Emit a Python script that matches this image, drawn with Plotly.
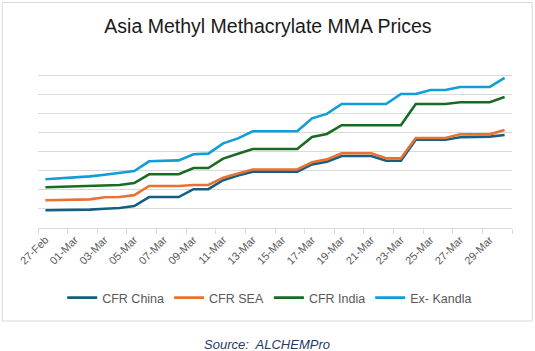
import plotly.graph_objects as go

dates = ["2025-02-27", "2025-03-02", "2025-03-03", "2025-03-04", "2025-03-05",
         "2025-03-06", "2025-03-08", "2025-03-09", "2025-03-10", "2025-03-11",
         "2025-03-12", "2025-03-13", "2025-03-16", "2025-03-17", "2025-03-18",
         "2025-03-19", "2025-03-21", "2025-03-22", "2025-03-23", "2025-03-24",
         "2025-03-25", "2025-03-26", "2025-03-27", "2025-03-29", "2025-03-30"]

cfr_china = [0.93, 0.96, 1.01, 1.05, 1.15, 1.62, 1.62, 2.03, 2.03, 2.50, 2.75, 2.95, 2.95,
             3.33, 3.47, 3.77, 3.77, 3.52, 3.52, 4.62, 4.62, 4.62, 4.75, 4.78, 4.87]
cfr_sea = [1.45, 1.50, 1.61, 1.62, 1.72, 2.20, 2.20, 2.25, 2.25, 2.63, 2.85, 3.06, 3.06,
           3.44, 3.59, 3.91, 3.91, 3.65, 3.65, 4.71, 4.71, 4.71, 4.90, 4.90, 5.13]
cfr_india = [2.13, 2.20, 2.25, 2.25, 2.35, 2.81, 2.81, 3.14, 3.14, 3.63, 3.89, 4.13, 4.13,
             4.76, 4.92, 5.38, 5.38, 5.38, 5.38, 6.49, 6.49, 6.49, 6.58, 6.58, 6.85]
ex_kandla = [2.55, 2.70, 2.79, 2.88, 2.98, 3.49, 3.54, 3.86, 3.89, 4.43, 4.69, 5.06, 5.06,
             5.74, 5.97, 6.49, 6.49, 6.49, 7.01, 7.01, 7.22, 7.22, 7.38, 7.38, 7.85]

series_names = ["CFR China", "CFR SEA", "CFR India", "Ex- Kandla"]
colors = ["#156082", "#E97132", "#196B24", "#0F9ED5"]

tick_dates = ["2025-02-27"] + ["2025-03-%02d" % d for d in range(1, 30, 2)]
tick_labels = ["27-Feb"] + ["%02d-Mar" % d for d in range(1, 30, 2)]

fig = go.Figure()
for name, vals, col in zip(series_names, [cfr_china, cfr_sea, cfr_india, ex_kandla], colors):
    fig.add_trace(go.Scatter(x=dates, y=vals, mode="lines", name=name,
                             line=dict(color=col, width=2.6)))

L, R, T, B = 38.3, 512.3, 56.0, 228.0
W, H = 535, 351
pw, ph = R - L, B - T

def px(x):
    return (x - L) / pw

def py(y):
    return (B - y) / ph

fig.update_layout(
    width=W, height=H,
    margin=dict(l=L, r=W - R, t=T, b=H - B, pad=0),
    paper_bgcolor="white", plot_bgcolor="white",
    font=dict(family="Liberation Sans, Arial, sans-serif", color="#595959"),
    title=dict(text="Asia Methyl Methacrylate MMA Prices", x=px(268) * pw / W + L / W, xanchor="center",
               y=1 - 26 / H, yanchor="middle",
               font=dict(size=19.5, color="#1a1a1a", family="Liberation Sans, Arial, sans-serif")),
    showlegend=True,
    legend=dict(orientation="h", x=px(270), xanchor="center", y=py(298), yanchor="middle",
                font=dict(size=12.5, color="#595959"), bgcolor="rgba(0,0,0,0)"),
    xaxis=dict(type="date", range=["2025-02-26 12:00", "2025-03-30 12:00"],
               tickvals=tick_dates, ticktext=tick_labels, tickangle=-45,
               tickfont=dict(size=11, color="#595959"),
               ticks="", showgrid=False, zeroline=False,
               showline=True, linecolor="#d9d9d9", linewidth=1,
               minor=dict(ticks="outside", ticklen=5, tickcolor="#d9d9d9", tickwidth=1,
                          dtick=2 * 86400000, tick0="2025-02-26 12:00", showgrid=False)),
    yaxis=dict(range=[0, 9], dtick=1, tick0=0, showticklabels=False, ticks="",
               showgrid=True, gridcolor="#d9d9d9", gridwidth=1, zeroline=False,
               showline=False),
    shapes=[dict(type="rect", xref="paper", yref="paper",
                 x0=px(2.5), x1=px(532.5), y0=py(321), y1=py(2.5),
                 line=dict(color="#d9d9d9", width=1), fillcolor="rgba(0,0,0,0)", layer="below")],
    annotations=[dict(text="<i>Source:  ALCHEMPro</i>", xref="paper", yref="paper",
                      x=px(267.5), y=py(344), xanchor="center", yanchor="middle",
                      showarrow=False,
                      font=dict(size=13, color="#1f3864", family="Liberation Sans, Arial, sans-serif"))],
)

fig.write_html("out.html")
